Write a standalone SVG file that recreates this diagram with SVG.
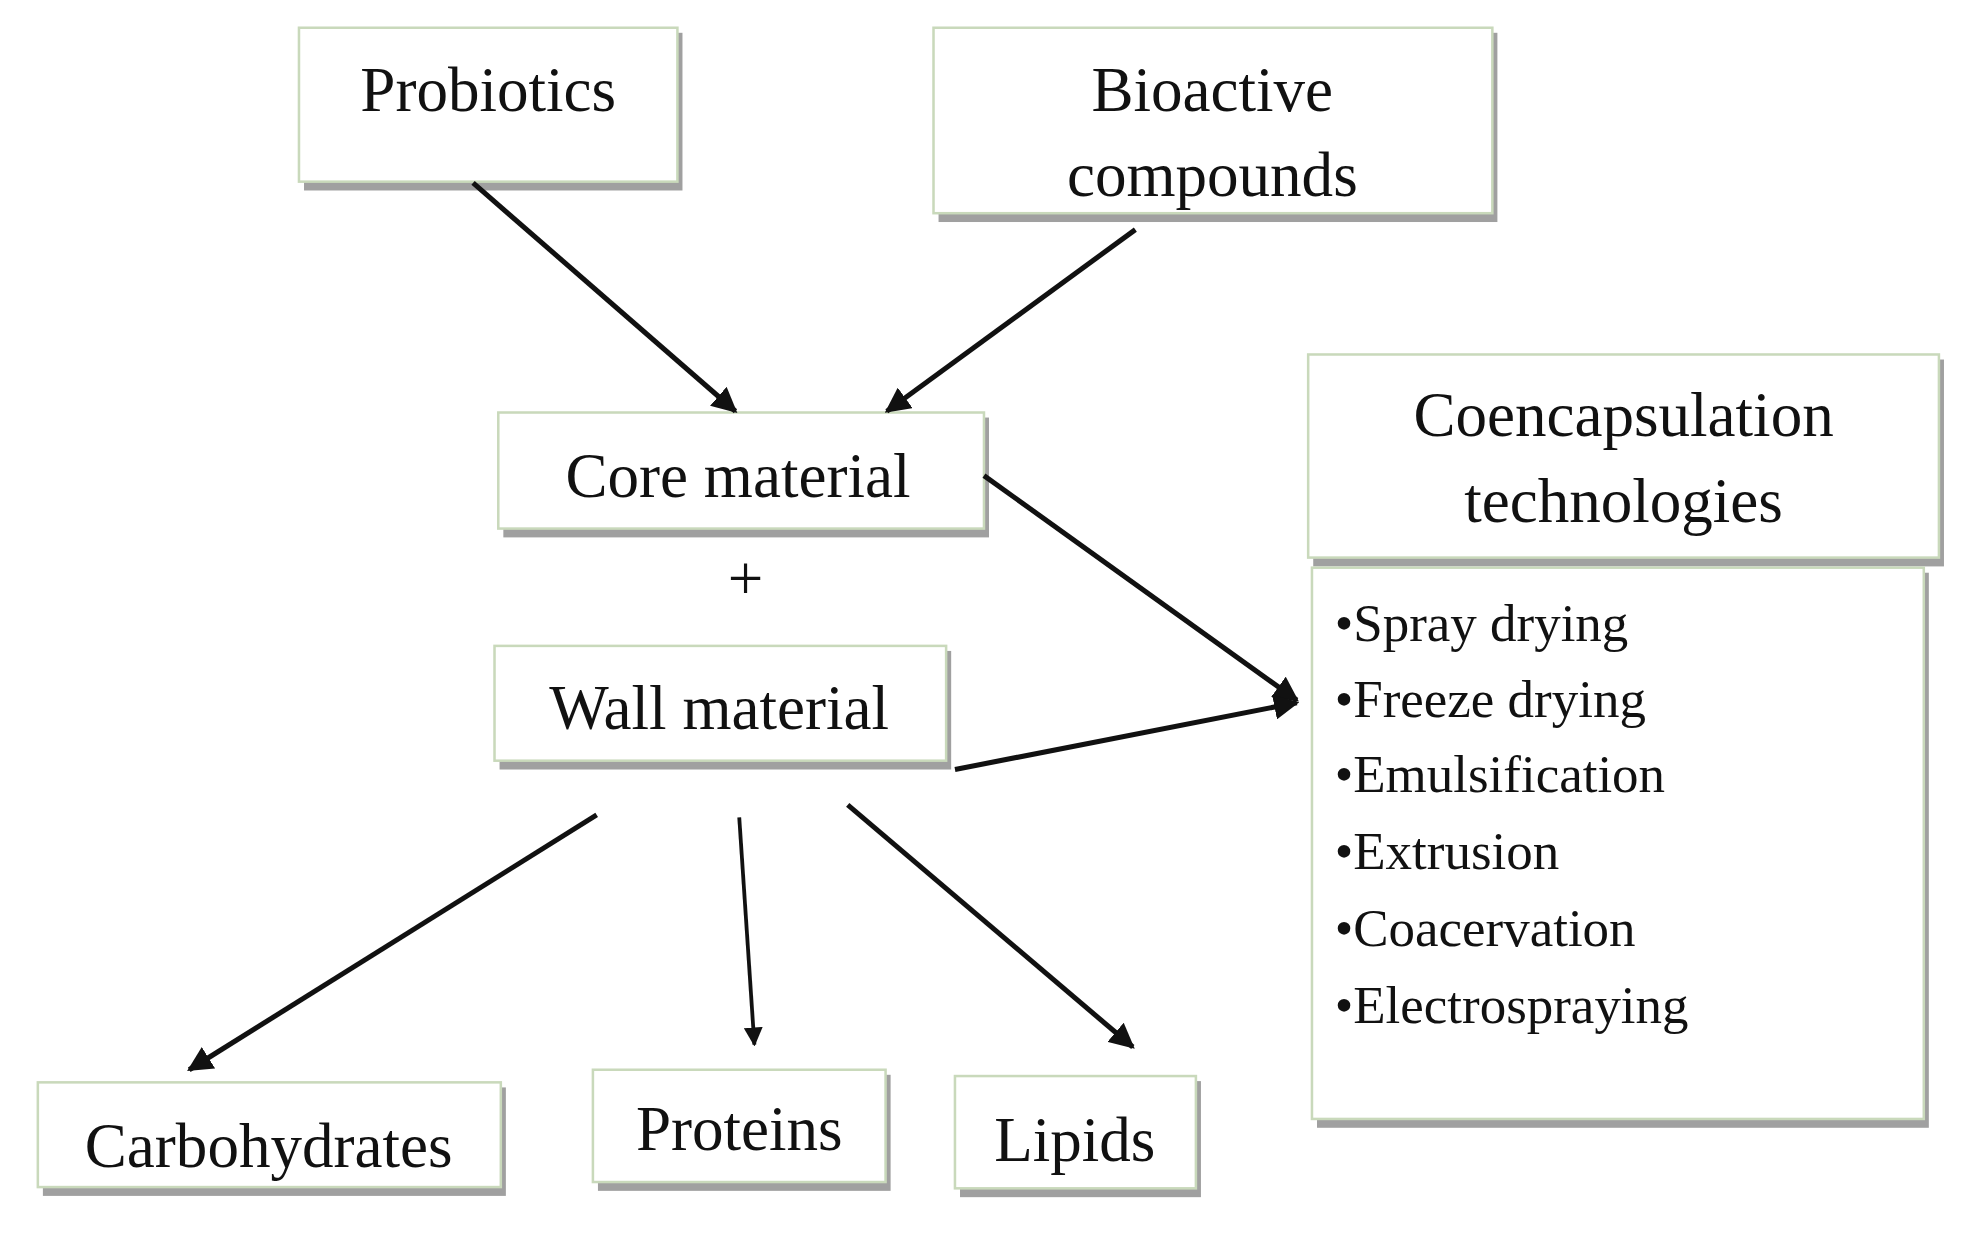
<svg xmlns="http://www.w3.org/2000/svg" width="1978" height="1240" viewBox="0 0 1978 1240">
<defs>
<style>
.b{fill:#fff;stroke:#c9d9bb;stroke-width:2}
.s{fill:#a0a0a0}
.t{font-family:"Liberation Serif",serif;font-size:50px;fill:#111;text-anchor:middle}
.l{font-family:"Liberation Serif",serif;font-size:42px;fill:#111}
.c{stroke:#111;stroke-width:4;fill:none;marker-end:url(#a)}
</style>
<marker id="a" viewBox="0 0 10 10" refX="9" refY="5" markerWidth="5" markerHeight="5" orient="auto"><path d="M0,0 L10,5 L0,10 z" fill="#111"/></marker>
</defs>
<rect width="1978" height="1240" fill="#fff"/>
<g transform="scale(1.2615)">
<g id="probiotics"><rect class="s" x="241" y="26" width="300" height="125"/><rect class="b" x="237" y="22" width="300" height="122"/><text class="t" x="387" y="88">Probiotics</text></g>
<g id="bioactive"><rect class="s" x="744" y="26" width="443" height="150"/><rect class="b" x="740" y="22" width="443" height="147"/><text class="t" x="961" y="88">Bioactive</text><text class="t" x="961" y="155">compounds</text></g>
<g id="core"><rect class="s" x="399" y="331" width="385" height="95"/><rect class="b" x="395" y="327" width="385" height="92"/><text class="t" x="585" y="394">Core material</text></g>
<g id="plus"><text class="t" x="591" y="476">+</text></g>
<g id="wall"><rect class="s" x="396" y="516" width="358" height="94"/><rect class="b" x="392" y="512" width="358" height="91"/><text class="t" x="570" y="578">Wall material</text></g>
<g id="coenc"><rect class="s" x="1041" y="285" width="500" height="164"/><rect class="b" x="1037" y="281" width="500" height="161"/><text class="t" x="1287" y="346">Coencapsulation</text><text class="t" x="1287" y="414">technologies</text></g>
<g id="list"><rect class="s" x="1044" y="454" width="485" height="440"/><rect class="b" x="1040" y="450" width="485" height="437"/>
<text class="l" x="1058" y="508">•Spray drying</text><text class="l" x="1058" y="568">•Freeze drying</text><text class="l" x="1058" y="628">•Emulsification</text><text class="l" x="1058" y="689">•Extrusion</text><text class="l" x="1058" y="750">•Coacervation</text><text class="l" x="1058" y="811">•Electrospraying</text></g>
<g id="carbs"><rect class="s" x="34" y="862" width="367" height="86"/><rect class="b" x="30" y="858" width="367" height="83"/><text class="t" x="213" y="925">Carbohydrates</text></g>
<g id="proteins"><rect class="s" x="474" y="852" width="232" height="92"/><rect class="b" x="470" y="848" width="232" height="89"/><text class="t" x="586" y="912">Proteins</text></g>
<g id="lipids"><rect class="s" x="761" y="857" width="191" height="92"/><rect class="b" x="757" y="853" width="191" height="89"/><text class="t" x="852" y="920">Lipids</text></g>
<g id="connectors">
<line class="c" x1="375" y1="145" x2="583" y2="326"/>
<line class="c" x1="900" y1="182" x2="703" y2="326"/>
<line class="c" x1="780" y1="377" x2="1028" y2="555"/>
<line class="c" x1="757" y1="610" x2="1028" y2="557"/>
<line class="c" x1="473" y1="646" x2="150" y2="848"/>
<line class="c" x1="586" y1="648" x2="598" y2="828" style="stroke-width:3"/>
<line class="c" x1="672" y1="638" x2="898" y2="830"/>
</g>
</g>
</svg>
